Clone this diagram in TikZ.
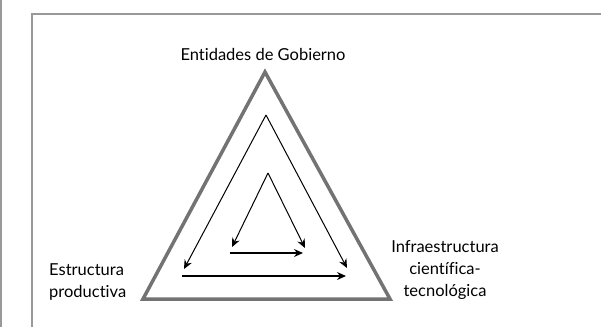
\documentclass[tikz,border=0pt]{standalone}
\usepackage{fontspec}
\setmainfont[Ligatures=NoCommon]{Lato}
\usepackage{tikz}
\usetikzlibrary{arrows.meta}
\usetikzlibrary{positioning, calc}
\definecolor{framegray}{rgb}{0.6,0.6,0.6}
\definecolor{trigray}{rgb}{0.45,0.45,0.45}

\tikzset{
    label/.style={font=\fontsize{16.5}{22}\selectfont, inner sep=0pt, align=center},
    flow/.style={-{Stealth[length=9pt, width=8pt, inset=3pt]}, line width=1pt},
    baseflow/.style={flow, line width=1.6pt}
}

\begin{document}
\begin{tikzpicture}[x=1pt, y=-1pt]
\useasboundingbox (0,0) rectangle (601,327);

% frame
\draw[framegray, line width=1.5pt] (0.75,0) -- (0.75,327);
\draw[framegray, line width=2pt] (32,327) -- (32,14) -- (601,14);

% outer triangle
\coordinate (top) at (265,72);
\coordinate (left) at (143,299);
\coordinate (right) at (390,299);
\draw[trigray, line width=3.5pt, line join=miter] (top) -- (left) -- (right) -- cycle;

% labels
\node[label] (gob) at (263,54) {Entidades de Gobierno};
\node[label, anchor=west, align=left] (prod) at (49,282) {Estructura\\productiva};
\node[label] (infra) at (445,270) {Infraestructura\\científica-\\tecnológica};

% middle loop
\coordinate (m) at (266,115);
\coordinate (ml) at (184,269);
\coordinate (mr) at (347,268);
\coordinate (mb1) at (182,276);
\coordinate (mb2) at (346,276);
\draw[flow] (m) -- (ml);
\draw[flow] (m) -- (mr);
\draw[baseflow] (mb1) -- (mb2);

% inner loop
\coordinate (i) at (268,173);
\coordinate (il) at (232,247);
\coordinate (ir) at (305,248);
\coordinate (ib1) at (230,253);
\coordinate (ib2) at (303,253);
\draw[flow] (i) -- (il);
\draw[flow] (i) -- (ir);
\draw[baseflow] (ib1) -- (ib2);

\end{tikzpicture}
\end{document}
